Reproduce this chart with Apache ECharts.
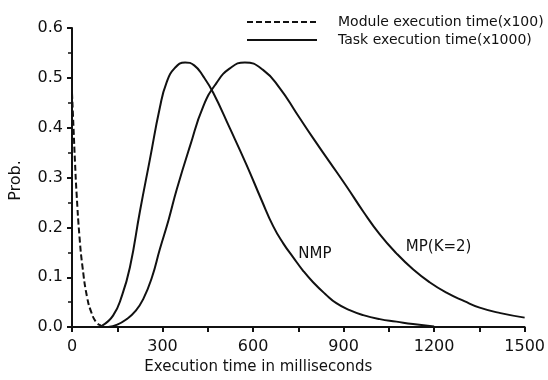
<!DOCTYPE html>
<html lang="en">

<head>
    <meta charset="UTF-8">
    <title>Execution time distribution</title>
    <style>
        html, body { margin: 0; padding: 0; background: #fff; }
    </style>
</head>

<body>
    <div id="main" style="width: 548px; height: 380px"></div>
    <script src="https://cdn.jsdelivr.net/npm/echarts@6/dist/echarts.min.js"></script>
    <script type="text/javascript">
        // values: [ms, prob]
        var moduleData = [
            [0, 0.47], [5, 0.40], [10, 0.33], [15, 0.27], [25, 0.18], [35, 0.12],
            [50, 0.06], [65, 0.028], [80, 0.01], [95, 0.003], [110, 0]
        ];
        var nmpData = [
            [100, 0.003], [136, 0.023], [165, 0.062], [192, 0.12], [225, 0.232], [258, 0.336],
            [291, 0.44], [313, 0.49], [341, 0.52], [375, 0.531], [405, 0.525], [435, 0.503],
            [468, 0.47], [523, 0.399], [578, 0.326], [628, 0.255], [667, 0.202], [700, 0.168],
            [733, 0.14], [766, 0.113], [799, 0.09], [840, 0.066], [876, 0.048], [920, 0.034],
            [965, 0.024], [1020, 0.016], [1075, 0.011], [1130, 0.006], [1200, 0.001]
        ];
        var mpData = [
            [120, 0], [150, 0.005], [181, 0.016], [210, 0.032], [236, 0.056], [265, 0.1],
            [291, 0.156], [320, 0.215], [347, 0.276], [391, 0.363], [435, 0.443], [479, 0.49],
            [523, 0.519], [573, 0.531], [633, 0.516], [689, 0.479], [744, 0.429], [799, 0.379],
            [854, 0.331], [910, 0.282], [965, 0.232], [1020, 0.186], [1075, 0.148], [1130, 0.116],
            [1185, 0.09], [1241, 0.069], [1300, 0.052], [1351, 0.039], [1420, 0.028], [1500, 0.019]
        ];
        var moduleName = 'Module execution time(x100)';
        var taskName = 'Task execution time(x1000)';
        var curveLabels = [
            { name: 'NMP', coord: [805, 0.146] },
            { name: 'MP(K=2)', coord: [1215, 0.16] }
        ];

        var myChart = echarts.init(document.getElementById('main'));
        var font = 'DejaVu Sans, sans-serif';
        var ink = '#111';

        // text-only mark placed at a data coordinate
        function curveLabel(item) {
            return {
                symbol: 'circle',
                symbolSize: 1,
                silent: true,
                itemStyle: { color: 'rgba(0,0,0,0)' },
                data: [{
                    coord: item.coord,
                    label: {
                        show: true,
                        position: 'inside',
                        formatter: item.name,
                        color: ink,
                        fontFamily: font,
                        fontSize: 15
                    }
                }]
            };
        }

        var option = {
            animation: false,
            backgroundColor: '#fff',
            grid: { left: 72, right: 23, top: 28, bottom: 52 },
            legend: {
                orient: 'vertical',
                left: 241,
                top: 10,
                itemGap: 4,
                itemWidth: 70,
                itemHeight: 14,
                data: [moduleName, taskName],
                itemStyle: { color: 'rgba(0,0,0,0)', borderWidth: 0, opacity: 0 },
                textStyle: {
                    color: ink,
                    fontFamily: font,
                    fontSize: 14,
                    padding: [0, 0, 0, 16]
                }
            },
            xAxis: {
                type: 'value',
                min: 0,
                max: 1500,
                interval: 300,
                name: 'Execution time in milliseconds',
                nameLocation: 'middle',
                nameGap: 31,
                nameTextStyle: {
                    color: ink,
                    fontFamily: font,
                    fontSize: 15,
                    padding: [0, 80, 0, 0]
                },
                axisLine: { lineStyle: { color: ink, width: 2 } },
                axisTick: { inside: false, length: 5, lineStyle: { color: ink, width: 2 } },
                minorTick: { show: true, splitNumber: 2, length: 5, lineStyle: { color: ink, width: 2 } },
                axisLabel: {
                    color: ink,
                    fontFamily: font,
                    fontSize: 16,
                    margin: 12,
                    formatter: function (v) { return String(v); }
                },
                splitLine: { show: false }
            },
            yAxis: {
                type: 'value',
                min: 0,
                max: 0.6,
                interval: 0.1,
                name: 'Prob.',
                nameLocation: 'middle',
                nameGap: 48,
                nameRotate: 90,
                nameTextStyle: {
                    color: ink,
                    fontFamily: font,
                    fontSize: 16,
                    padding: [0, 6, 0, 0]
                },
                axisLine: { show: true, lineStyle: { color: ink, width: 2 } },
                axisTick: { show: true, length: 5, lineStyle: { color: ink, width: 2 } },
                minorTick: { show: true, splitNumber: 2, length: 4, lineStyle: { color: ink, width: 1.5 } },
                axisLabel: {
                    color: ink,
                    fontFamily: font,
                    fontSize: 16,
                    margin: 9,
                    formatter: function (v) { return v.toFixed(1); }
                },
                splitLine: { show: false }
            },
            series: [{
                name: moduleName,
                type: 'line',
                data: moduleData,
                smooth: 0.5,
                symbol: 'none',
                lineStyle: { color: ink, width: 2, type: [6, 3] },
                itemStyle: { color: ink }
            }, {
                name: taskName,
                type: 'line',
                data: nmpData,
                smooth: 0.5,
                symbol: 'none',
                lineStyle: { color: ink, width: 2 },
                itemStyle: { color: ink },
                markPoint: curveLabel(curveLabels[0])
            }, {
                name: taskName,
                type: 'line',
                data: mpData,
                smooth: 0.5,
                symbol: 'none',
                lineStyle: { color: ink, width: 2 },
                itemStyle: { color: ink },
                markPoint: curveLabel(curveLabels[1])
            }]
        };
        myChart.setOption(option);
    </script>

</body>

</html>
